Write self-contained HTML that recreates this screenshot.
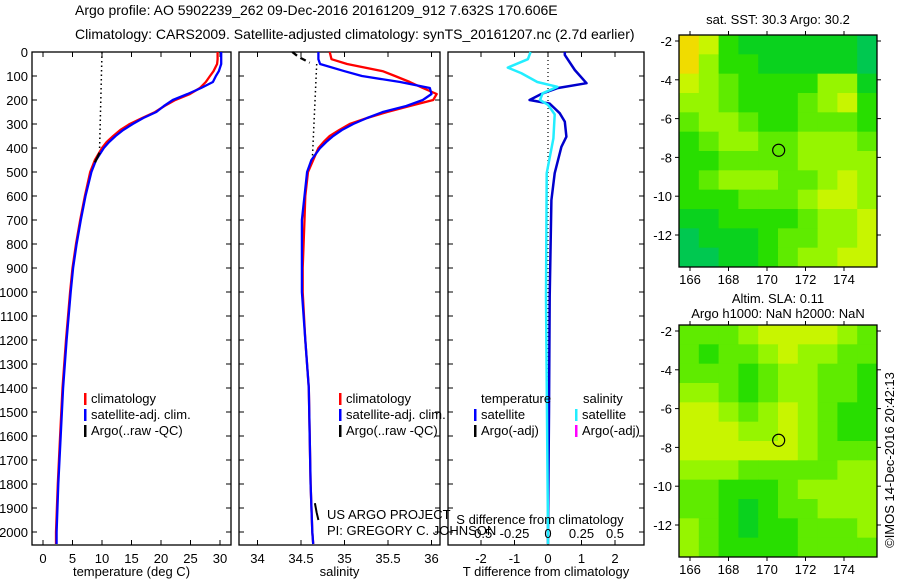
<!DOCTYPE html>
<html><head><meta charset="utf-8"><style>
body{margin:0;background:#fff;width:900px;height:580px;overflow:hidden}
svg{font-family:"Liberation Sans",sans-serif;}
text{font-size:13px;fill:#000}
</style></head><body>
<svg id="fig" width="900" height="580" xmlns="http://www.w3.org/2000/svg">
<text x="75" y="15" style="font-size:14px">Argo profile: AO 5902239_262 09-Dec-2016 20161209_912 7.632S 170.606E</text>
<text x="75" y="39" style="font-size:14px">Climatology: CARS2009. Satellite-adjusted climatology: synTS_20161207.nc (2.7d earlier)</text>
<text x="778" y="24" text-anchor="middle">sat. SST: 30.3 Argo: 30.2</text>
<text x="778" y="303" text-anchor="middle">Altim. SLA: 0.11</text>
<text x="778" y="318" text-anchor="middle">Argo h1000: NaN h2000: NaN</text>
<text transform="translate(894,460) rotate(-90)" text-anchor="middle">©IMOS 14-Dec-2016 20:42:13</text>
</svg>
<script>
// ---------- data ----------
const depthTicks=[0,100,200,300,400,500,600,700,800,900,1000,1100,1200,1300,1400,1500,1600,1700,1800,1900,2000];
const tempTicks=[0,5,10,15,20,25,30];
const salTicks=[34,34.5,35,35.5,36];
const salTickLabels=["34","34.5","35","35.5","36"];
const tdiffTicks=[-2,-1,0,1,2];
const sdiffTicks=[-0.5,-0.25,0,0.25,0.5];
const sdiffTickLabels=["-0.5","-0.25","0","0.25","0.5"];

const climDepth=[0,30,50,80,100,125,150,175,200,225,250,275,300,325,350,375,400,450,500,600,700,800,900,1000,1200,1400,1600,1800,2000,2050];
const climTemp=[29.6,29.6,29.5,28.9,28.3,27.6,26.6,24.9,22.4,20.6,19.0,16.8,14.7,13.1,11.9,10.8,10.0,8.8,8.0,7.1,6.3,5.6,5.0,4.6,3.9,3.3,2.9,2.5,2.2,2.2];
const satTemp=[30.2,30.2,30.2,29.8,29.3,28.8,26.8,24.5,22.0,20.5,19.2,17.0,15.2,13.6,12.3,11.2,10.3,9.0,8.2,7.2,6.4,5.7,5.1,4.7,4.0,3.4,3.0,2.6,2.3,2.3];
const climSal=[34.83,34.85,35.03,35.44,35.58,35.75,35.90,36.06,36.02,35.75,35.49,35.26,35.06,34.94,34.83,34.76,34.70,34.64,34.58,34.55,34.54,34.53,34.52,34.52,34.55,34.59,34.60,34.61,34.63,34.64];
const satSal=[34.70,34.70,34.72,35.00,35.20,35.64,35.98,36.00,35.90,35.71,35.44,35.26,35.10,34.97,34.87,34.79,34.72,34.62,34.57,34.54,34.51,34.51,34.51,34.51,34.55,34.59,34.60,34.61,34.63,34.64];
const argoTempDepth=[420,440,460]; const argoTemp=[9.6,9.2,8.8];
const argoSalDepth=[0,20,35,45]; const argoSal=[34.40,34.47,34.55,34.60];
const argoSal2Depth=[1880,1920,1950]; const argoSal2=[34.66,34.68,34.70];

const diffDepth=[0,12,75,130,150,175,200,215,255,290,353,395,505,617,1020,1500,2000,2050];
const tDiffSat=[0.5,0.5,0.8,1.15,0.3,-0.2,-0.55,0.05,0.35,0.5,0.55,0.4,0.2,0.1,0.05,0.03,0.0,0.0];
const sDiffDepth=[0,30,65,88,125,145,172,200,220,260,360,505,1020,2000,2050];
const sDiffSat=[-0.13,-0.15,-0.3,-0.2,-0.08,0.07,-0.04,-0.06,0.0,0.05,0.04,-0.01,-0.015,0.0,0.0];

const lonTicks=[166,168,170,172,174];
const latTicks=[-2,-4,-6,-8,-10,-12];
const argoLon=170.606, argoLat=-7.632;
const sstGrid=[
[.9,.8,.5,.4,.4,.4,.4,.4,.4,.3],
[.9,.7,.5,.5,.4,.4,.4,.4,.4,.3],
[.8,.7,.6,.5,.5,.5,.5,.7,.7,.4],
[.7,.7,.6,.5,.5,.5,.6,.7,.8,.5],
[.6,.7,.7,.6,.5,.5,.6,.6,.6,.5],
[.5,.6,.7,.7,.6,.6,.7,.7,.7,.6],
[.5,.5,.6,.6,.6,.6,.7,.7,.7,.7],
[.5,.6,.7,.7,.7,.6,.6,.7,.8,.7],
[.5,.5,.5,.6,.6,.6,.7,.8,.8,.7],
[.4,.4,.5,.5,.5,.5,.6,.7,.7,.8],
[.3,.4,.4,.4,.5,.6,.6,.7,.7,.8],
[.3,.3,.4,.4,.5,.6,.7,.7,.8,.8]];
const slaGrid=[
[.6,.6,.6,.7,.8,.8,.8,.8,.7,.6],
[.6,.5,.6,.6,.7,.8,.7,.7,.6,.6],
[.6,.6,.6,.5,.6,.7,.7,.6,.6,.5],
[.7,.7,.6,.5,.6,.7,.7,.6,.6,.5],
[.8,.8,.7,.6,.7,.8,.7,.6,.5,.5],
[.8,.8,.8,.7,.7,.8,.7,.6,.5,.5],
[.8,.8,.8,.8,.8,.8,.7,.6,.6,.6],
[.7,.7,.7,.6,.6,.6,.6,.6,.7,.7],
[.6,.6,.5,.5,.5,.6,.7,.7,.7,.7],
[.6,.6,.5,.4,.5,.6,.6,.7,.7,.7],
[.7,.6,.5,.4,.5,.5,.6,.6,.6,.7],
[.7,.6,.5,.5,.5,.5,.6,.6,.6,.6]];

// ---------- helpers ----------
const NS="http://www.w3.org/2000/svg";
const svg=document.getElementById('fig');
function mk(tag,attrs,parent){const e=document.createElementNS(NS,tag);for(const k in attrs)e.setAttribute(k,attrs[k]);(parent||svg).appendChild(e);return e;}
const yD=d=>52+d*0.24;
const xT=t=>43+t*5.9;
const xS=s=>257.5+(s-34)*87;
const xTD=v=>548+v*33.5;
const xSD=v=>548+v*134;

function panel(name,x0,x1,xt,xticks,xlabels,xtitle,showDepth,labelY){
  const g=mk('g',{});
  
  
  const r=mk('rect',{x:x0,y:52,width:x1-x0,height:493,fill:'none',stroke:'#000','stroke-width':1.3},g);
  
  
  depthTicks.forEach(d=>{
    mk('line',{x1:x0,x2:x0+5,y1:yD(d),y2:yD(d),stroke:'#000'},g);
    mk('line',{x1:x1-5,x2:x1,y1:yD(d),y2:yD(d),stroke:'#000'},g);
    if(showDepth){const t=mk('text',{x:28,y:yD(d)+5,'text-anchor':'end'},g);t.textContent=d;
      
      }
  });
  xticks.forEach((v,i)=>{const x=xt(v);
    mk('line',{x1:x,x2:x,y1:545,y2:540,stroke:'#000'},g);
    mk('line',{x1:x,x2:x,y1:52,y2:57,stroke:'#000'},g);
    const t=mk('text',{x:x,y:labelY,'text-anchor':'middle'},g);t.textContent=xlabels[i];
    
    
  });
  const tt=mk('text',{x:(x0+x1)/2,y:576,'text-anchor':'middle'},g);tt.textContent=xtitle;
  
  
  return g;
}
function line(g,xs,ys,xf,color,w,name,dash){
  const pts=xs.map((v,i)=>xf(v).toFixed(1)+','+yD(ys[i]).toFixed(1)).join(' ');
  const p=mk('polyline',{points:pts,fill:'none',stroke:color,'stroke-width':w,'stroke-linejoin':'round'},g);
  if(dash)p.setAttribute('stroke-dasharray',dash);
  
  
}
function legend(g,x,y,color,label,name){
  mk('rect',{x:x,y:y-10,width:2.5,height:12,fill:color},g);
  const t=mk('text',{x:x+7,y:y},g);t.textContent=label;
  
  
}

// Panel 1 temperature
const p1=panel('temperature-panel',32,231,xT,tempTicks,tempTicks.map(String),'temperature (deg C)',true,563);
line(p1,[10.0,9.6],[0,400],xT,'#000',1.5,'argo-temp-dotted','1.5,3');
line(p1,climTemp,climDepth,xT,'#f00',2.3,'climatology-temp-line');
line(p1,satTemp,climDepth,xT,'#00f',2.3,'satellite-temp-line');
line(p1,argoTemp,argoTempDepth,xT,'#000',2.3,'argo-temp-line');
legend(p1,84,403,'#f00','climatology','legend-climatology');
legend(p1,84,419,'#00f','satellite-adj. clim.','legend-satellite');
legend(p1,84,435,'#000','Argo(..raw -QC)','legend-argo');

// Panel 2 salinity
const p2=panel('salinity-panel',239,440,xS,salTicks,salTickLabels,'salinity',false,563);
line(p2,[34.68,34.63],[50,450],xS,'#000',1.5,'argo-sal-dotted','1.5,3');
line(p2,climSal,climDepth,xS,'#f00',2.3,'climatology-sal-line');
line(p2,satSal,climDepth,xS,'#00f',2.3,'satellite-sal-line');
line(p2,argoSal,argoSalDepth,xS,'#000',2.3,'argo-sal-line','6,4');
line(p2,argoSal2,argoSal2Depth,xS,'#000',2,'argo-sal-bottom-line');
legend(p2,339,403,'#f00','climatology','legend-climatology-2');
legend(p2,339,419,'#00f','satellite-adj. clim.','legend-satellite-2');
legend(p2,339,435,'#000','Argo(..raw -QC)','legend-argo-2');
[['US ARGO PROJECT',519],['PI: GREGORY C. JOHNSON',535]].forEach(([s,y])=>{const t=mk('text',{x:327,y:y},p2);t.textContent=s;
  
  });

// Panel 3 differences
const p3=panel('difference-panel',448,644,xTD,tdiffTicks,tdiffTicks.map(String),'T difference from climatology',false,563);
line(p3,[0,0],[0,2050],xTD,'#000',1.2,'zero-dotted-line','1,3');
line(p3,tDiffSat,diffDepth,xTD,'#00c',2.5,'t-diff-satellite-line');
line(p3,sDiffSat,sDiffDepth,xSD,'#2ef',2.5,'s-diff-satellite-line');
sdiffTicks.forEach((v,i)=>{const t=mk('text',{x:xSD(v),y:538,'text-anchor':'middle'},p3);t.textContent=sdiffTickLabels[i];
  
  });
{const t=mk('text',{x:540,y:524,'text-anchor':'middle'},p3);t.textContent='S difference from climatology';
 
 }
{const t=mk('text',{x:481,y:403},p3);t.textContent='temperature';
 
 
 const u=mk('text',{x:583,y:403},p3);u.textContent='salinity';
 
 }
legend(p3,474,419,'#00f','satellite','legend-t-satellite');
legend(p3,474,435,'#000','Argo(-adj)','legend-t-argo');
legend(p3,575,419,'#2ef','satellite','legend-s-satellite');
legend(p3,575,435,'#f0f','Argo(-adj)','legend-s-argo');

// ---------- maps ----------
function col(v){
  const stops=[[0.3,[0,200,80]],[0.4,[10,210,30]],[0.5,[40,222,0]],[0.6,[95,235,0]],[0.7,[150,245,0]],[0.8,[200,245,0]],[0.9,[240,220,0]]];
  if(v<=stops[0][0])return 'rgb('+stops[0][1]+')';
  for(let i=1;i<stops.length;i++){if(v<=stops[i][0]){const a=stops[i-1],b=stops[i],f=(v-a[0])/(b[0]-a[0]);
    return 'rgb('+a[1].map((c,j)=>Math.round(c+(b[1][j]-c)*f)).join(',')+')';}}
  return 'rgb('+stops[stops.length-1][1]+')';
}
function map(name,top,grid,xlabY){
  const g=mk('g',{});
  
  
  const x0=679,x1=877,y1=top+232;
  const lonX=l=>690+(l-166)*19.25, latY=la=>top+6+(-2-la)*19.4;
  const rows=grid.length,cols=grid[0].length,cw=(x1-x0)/cols,ch=(y1-top)/rows;
  grid.forEach((row,r)=>row.forEach((v,c)=>{
    const cell=mk('rect',{x:x0+c*cw,y:top+r*ch,width:cw+0.5,height:ch+0.5,fill:col(v)},g);
    
    
  }));
  const f=mk('rect',{x:x0,y:top,width:x1-x0,height:y1-top,fill:'none',stroke:'#000','stroke-width':1.3},g);
  
  
  lonTicks.forEach(l=>{const x=lonX(l);mk('line',{x1:x,x2:x,y1:y1,y2:y1+4,stroke:'#000'},g);mk('line',{x1:x,x2:x,y1:top,y2:top-4,stroke:'#000'},g);
    const t=mk('text',{x:x,y:xlabY,'text-anchor':'middle'},g);t.textContent=l;
    
    });
  latTicks.forEach(la=>{const y=latY(la);mk('line',{x1:x0-4,x2:x0,y1:y,y2:y,stroke:'#000'},g);mk('line',{x1:x1,x2:x1+4,y1:y,y2:y,stroke:'#000'},g);
    const t=mk('text',{x:672,y:y+5,'text-anchor':'end'},g);t.textContent=la;
    
    });
  const c=mk('circle',{cx:lonX(argoLon),cy:latY(argoLat),r:6,fill:'none',stroke:'#000','stroke-width':1.2},g);
  
  
}
map('sst-map',35,sstGrid,284);
map('sla-map',325,slaGrid,574);
</script>
</body></html>
